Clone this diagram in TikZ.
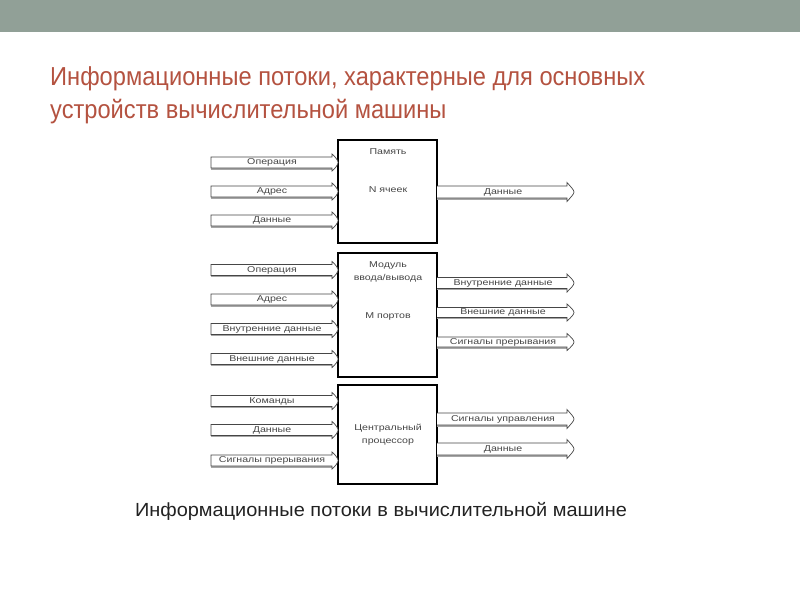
\documentclass[tikz,border=0pt]{standalone}
\usepackage{fontspec}
\setmainfont{Liberation Sans}
\newfontfamily\titlefont[FakeStretch=0.91]{Liberation Sans}
\newfontfamily\capfont[FakeStretch=1.05]{Liberation Sans}
\newfontfamily\lblfont[FakeStretch=1.25]{Liberation Sans}
\definecolor{band}{RGB}{145,160,151}
\definecolor{titlec}{RGB}{180,82,64}
\definecolor{capc}{RGB}{34,34,34}
\definecolor{flowc}{RGB}{70,70,70}
\newcommand\inflow[3]{%
  \draw[flowshadow] (211,#1-5.5+1.2) -- (332,#1-5.5+1.2);
  \draw[flowshadow] (211,#1+5.5+1) -- (332,#1+5.5+1);
  \draw[flow] (211,#1-5.5) -- (332,#1-5.5) -- (332,#1-8.5) .. controls (336,#1-5) and (338,#1-2) .. (338,#1) .. controls (338,#1+2) and (336,#1+5) .. (332,#1+8.5) -- (332,#1+5.5) -- (211,#1+5.5) -- cycle;
  \node[lbl] (#3) at (272,#1) {#2};}
\newcommand\outflow[4]{%
  \draw[flowshadow] (437,#1-#4+1.2) -- (567,#1-#4+1.2);
  \draw[flowshadow] (437,#1+#4+1) -- (567,#1+#4+1);
  \draw[flow] (437,#1-#4) -- (567,#1-#4) -- (567,#1-#4-3.5) .. controls (571,#1-5) and (574,#1-2) .. (574,#1) .. controls (574,#1+2) and (571,#1+5) .. (567,#1+#4+3.5) -- (567,#1+#4) -- (437,#1+#4);
  \node[lbl] (#3) at (503,#1) {#2};}
\begin{document}
\begin{tikzpicture}[x=1pt,y=-1pt,
  box/.style={draw=black,line width=1.2pt,fill=white,inner sep=0pt},
  flow/.style={draw=flowc,line width=0.7pt,fill=white},
  flowshadow/.style={draw=black!35,line width=1.2pt},
  lbl/.style={font=\lblfont\fontsize{8.5}{9}\selectfont,text=flowc,inner sep=0pt},
  boxlbl/.style={font=\lblfont\fontsize{8.5}{13}\selectfont,text=flowc,align=center,inner sep=0pt},
]
\useasboundingbox (0,0) rectangle (800,600);
\fill[band] (0,0) rectangle (800,32);
\node[anchor=base west,text=titlec,font=\titlefont\fontsize{26}{33}\selectfont,inner sep=0pt,align=left] (title) at (50,118) {Информационные потоки, характерные для основных\\устройств вычислительной машины};

% boxes
\node[box,minimum width=99pt,minimum height=103pt] (mem) at (387.5,191.5) {};
\node[box,minimum width=99pt,minimum height=124pt] (io) at (387.5,315) {};
\node[box,minimum width=99pt,minimum height=99pt] (cpu) at (387.5,434.5) {};

\node[boxlbl] (memt) at (388,152) {Память};
\node[boxlbl] (memn) at (388,190) {N ячеек};
\node[boxlbl] (iot) at (388,272) {Модуль\\ввода/вывода};
\node[boxlbl] (iom) at (388,316) {M портов};
\node[boxlbl] (cput) at (388,435) {Центральный\\процессор};

% memory flows
\inflow{162.5}{Операция}{m1}
\inflow{191.5}{Адрес}{m2}
\inflow{220.5}{Данные}{m3}
\outflow{192}{Данные}{mo1}{6}

% io flows
\inflow{270}{Операция}{i1}
\inflow{299.5}{Адрес}{i2}
\inflow{329}{Внутренние данные}{i3}
\inflow{359}{Внешние данные}{i4}
\outflow{283}{Внутренние данные}{io1}{5.5}
\outflow{312.5}{Внешние данные}{io2}{5}
\outflow{342}{Сигналы прерывания}{io3}{5}

% cpu flows
\inflow{401}{Команды}{c1}
\inflow{430}{Данные}{c2}
\inflow{460.5}{Сигналы прерывания}{c3}
\outflow{419}{Сигналы управления}{co1}{6}
\outflow{449}{Данные}{co2}{6}

\node[text=capc,font=\capfont\fontsize{19}{22}\selectfont,inner sep=0pt] (cap) at (381,511) {Информационные потоки в вычислительной машине};
\end{tikzpicture}
\end{document}
